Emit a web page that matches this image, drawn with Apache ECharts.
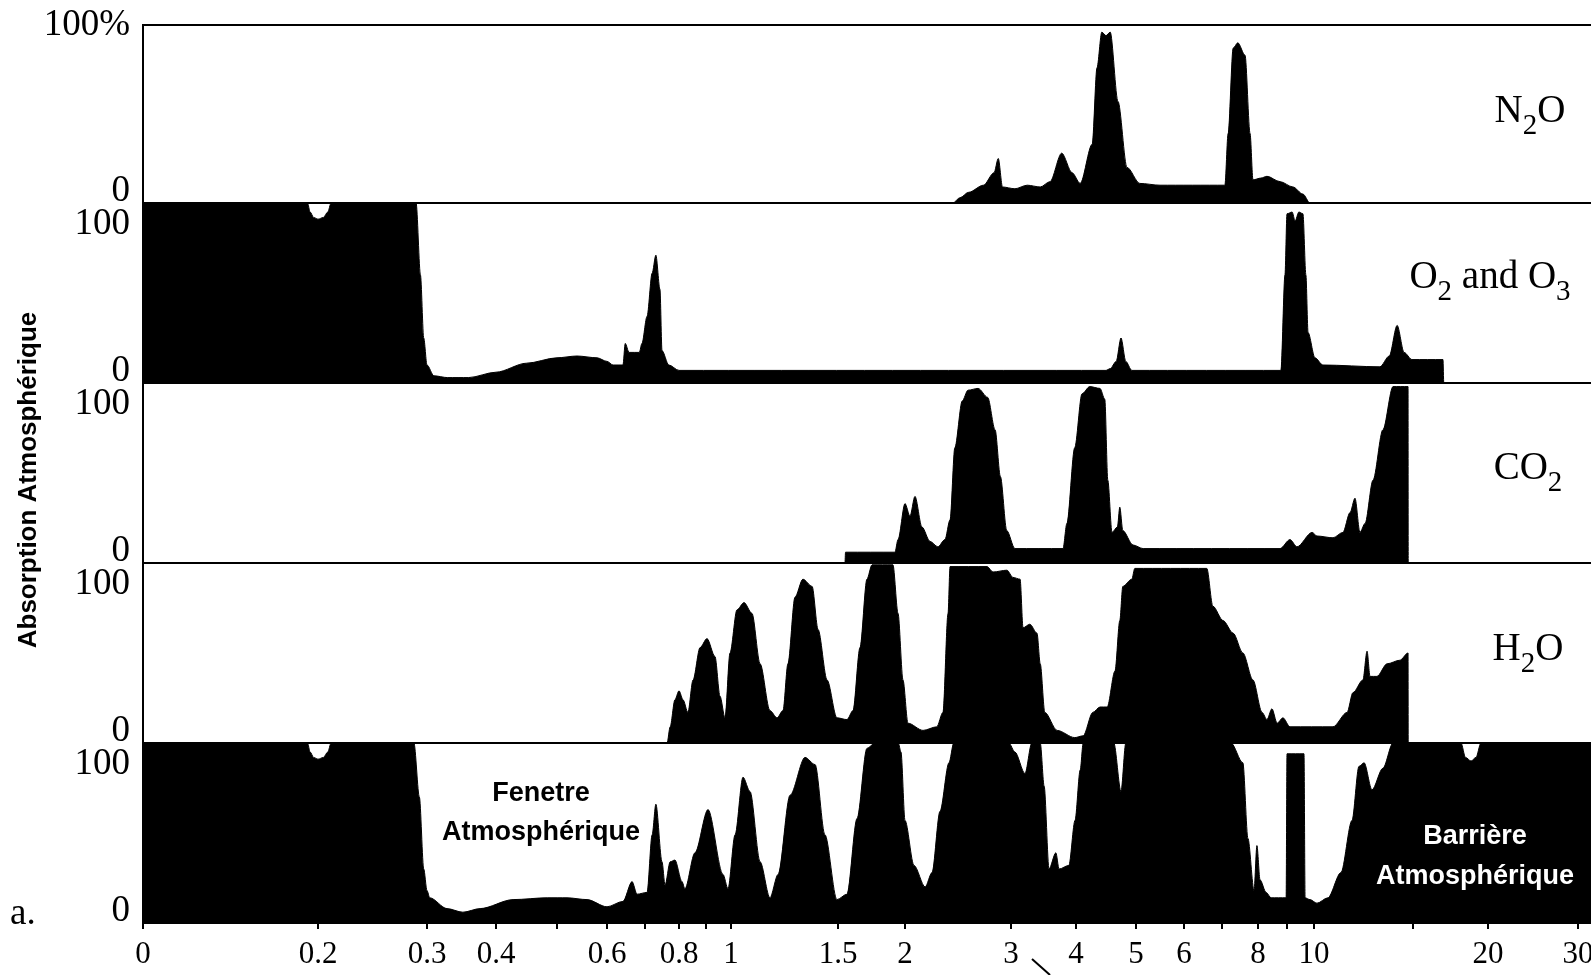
<!DOCTYPE html>
<html>
<head>
<meta charset="utf-8">
<script src="https://cdn.jsdelivr.net/npm/echarts@6/dist/echarts.min.js"></script>
<style>
  html, body { margin: 0; padding: 0; background: #fff; }
  #chart { width: 1591px; height: 975px; }
</style>
</head>
<body>
<div id="chart"></div>
<script>
// axe des longueurs d'onde (µm) dessiné à la main : points d'appui et leur décalage le long de l'axe
const AXIS_WL  = [0, 0.2, 0.3, 0.4, 0.5, 0.6, 0.7, 0.8, 0.9, 1, 1.5, 2, 3, 4, 5, 6, 7, 8, 9, 10, 15, 20, 30];
const AXIS_OFF = [0, 175, 284, 353, 414, 464, 502, 536, 563, 588, 695, 762, 868, 933, 993, 1041, 1079, 1115, 1144, 1171, 1270, 1345, 1435];
const AXIS_END = 1452;

const TICK_LABELS = [0, 0.2, 0.3, 0.4, 0.6, 0.8, 1, 1.5, 2, 3, 4, 5, 6, 8, 10, 20, 30];
const TICK_MINOR  = [0.5, 0.7, 0.9, 7, 9, 15];

// spectres d'absorption [longueur d'onde µm, absorption %]
const N2O = [[0,0],[2.45,0],[2.52,3],[2.6,6],[2.74,10],[2.84,17],[2.88,25],[2.92,9],[3.06,8],[3.25,10],[3.45,9],[3.6,12],
  [3.78,28],[3.94,17],[4.07,11],[4.27,33],[4.35,76],[4.43,96],[4.5,94],[4.57,96],[4.7,57],[4.85,20],[5.08,11],[5.5,10],
  [7.08,10],[7.17,39],[7.31,87],[7.44,90],[7.64,83],[7.78,39],[7.86,13],[8.1,14],[8.31,15],[8.76,12],[9.22,9],[9.59,5],
  [9.85,0],[31.5,0]];

const O2_O3 = [[0,100],[0.188,100],[0.191,95],[0.195,92],[0.2,91],[0.205,92],[0.209,95],[0.212,100],[0.29,100],
  [0.294,60],[0.297,25],[0.3,10],[0.31,4],[0.33,3],[0.36,3],[0.4,6],[0.45,11],[0.5,14],[0.54,15],[0.58,14],[0.6,12],
  [0.616,10],[0.642,10],[0.648,22],[0.658,17],[0.685,17],[0.692,22],[0.706,37],[0.721,61],[0.732,71],[0.744,52],
  [0.75,18],[0.77,10],[0.8,7],[4.5,7],[4.57,8],[4.67,12],[4.75,25],[4.83,12],[4.93,7],[8.79,7],[8.93,60],[9,94],
  [9.19,95],[9.3,90],[9.44,95],[9.59,94],[9.7,60],[9.78,28],[10.05,14],[10.45,10],[13.33,9],[13.8,15],[14.2,32],
  [14.55,17],[14.95,13],[17,13],[17.05,0],[31.5,0]];

const CO2 = [[0,0],[1.552,0],[1.556,6],[1.925,6],[1.948,13],[2,33],[2.047,26],[2.094,37],[2.16,20],[2.236,12],[2.31,9],
  [2.377,13],[2.425,24],[2.47,64],[2.54,90],[2.594,96],[2.69,97],[2.78,92],[2.85,74],[2.9,48],[2.96,18],[3.06,8],
  [3.8,8],[3.86,22],[3.98,64],[4.1,94],[4.23,98],[4.4,97],[4.48,91],[4.53,46],[4.6,17],[4.69,20],[4.73,31],[4.78,18],
  [4.95,10],[5.15,8],[8.76,8],[9.11,13],[9.37,9],[9.93,17],[10.15,15],[10.96,14],[11.46,17],[11.82,28],[12.07,36],
  [12.32,17],[12.58,22],[12.98,46],[13.48,74],[13.99,98],[14.75,98],[14.76,0],[31.5,0]];

const H2O = [[0,0],[0.765,0],[0.774,9],[0.788,24],[0.8,29],[0.815,24],[0.833,17],[0.852,35],[0.878,53],[0.904,58],
  [0.936,48],[0.956,26],[0.976,14],[0.996,50],[1.028,74],[1.061,78],[1.098,72],[1.136,44],[1.182,18],[1.215,14],
  [1.243,18],[1.266,44],[1.299,81],[1.336,91],[1.379,87],[1.407,63],[1.449,35],[1.495,14],[1.567,13],[1.612,18],
  [1.664,53],[1.716,91],[1.754,99],[1.91,99],[1.948,72],[1.985,35],[2.028,11],[2.17,7],[2.3,9],[2.358,17],[2.406,72],
  [2.425,98],[2.774,98],[2.83,95],[2.962,96],[3.03,92],[3.14,91],[3.185,64],[3.29,66],[3.4,61],[3.45,44],[3.52,17],
  [3.71,7],[3.98,3],[4.12,4],[4.28,17],[4.4,20],[4.52,20],[4.65,40],[4.73,68],[4.78,87],[4.93,91],[4.98,97],[6.6,97],
  [6.76,76],[7.03,68],[7.31,61],[7.58,50],[7.86,35],[8.14,17],[8.31,13],[8.48,19],[8.66,11],[8.86,14],[9.11,9],
  [10.96,9],[11.67,17],[11.97,28],[12.47,35],[12.68,51],[12.83,37],[13.18,37],[13.69,44],[14.34,46],[14.75,50],
  [14.76,0],[31.5,0]];

const TOTAL = [[0,100],[0.188,100],[0.191,95],[0.195,92],[0.2,91],[0.205,92],[0.209,95],[0.212,100],[0.288,100],
  [0.293,70],[0.297,30],[0.3,18],[0.304,14],[0.329,8],[0.352,6],[0.377,8],[0.428,13],[0.484,14],[0.52,14],[0.56,13],
  [0.6,9],[0.642,12],[0.666,23],[0.679,16],[0.706,17],[0.721,49],[0.732,66],[0.75,34],[0.759,21],[0.774,34],
  [0.788,35],[0.811,23],[0.822,19],[0.859,39],[0.908,63],[0.968,27],[0.988,19],[1.019,49],[1.056,81],[1.089,73],
  [1.136,34],[1.182,14],[1.22,27],[1.276,71],[1.346,92],[1.393,88],[1.439,49],[1.495,13],[1.567,16],[1.642,58],
  [1.716,97],[1.776,100],[1.95,100],[1.97,95],[2,57],[2.085,32],[2.19,20],[2.255,28],[2.33,62],[2.415,89],[2.46,100],
  [2.98,100],[3.06,95],[3.215,83],[3.32,100],[3.45,100],[3.51,76],[3.585,30],[3.69,39],[3.74,30],[3.89,32],
  [3.985,57],[4.07,85],[4.12,100],[4.63,100],[4.75,73],[4.83,100],[7.25,100],[7.58,89],[7.72,47],[7.89,18],[7.97,43],
  [8.07,24],[8.28,17],[8.45,14],[8.97,14],[9,94],[9.63,94],[9.67,14],[9.85,13],[10.15,11],[10.7,14],[11.36,28],
  [11.92,57],[12.27,87],[12.53,89],[12.93,74],[13.48,86],[13.99,100],[18.2,100],[18.5,92],[18.87,90],[19.2,92],
  [19.53,100],[31.5,100]];

const PANELS = [N2O, O2_O3, CO2, H2O, TOTAL];
const PANEL_TOP = [25, 203, 383, 563, 743];
const PANEL_H = [178, 180, 180, 180, 180];

const SERIF = "'Liberation Serif', 'Times New Roman', serif";
const NARROW = "'Liberation Sans Narrow', 'Liberation Sans', Arial, sans-serif";

// position le long de l'axe pour une longueur d'onde (interpolation par morceaux)
function pos(w) {
  const n = AXIS_WL.length;
  for (let i = 1; i < n; i++) {
    if (w <= AXIS_WL[i]) {
      const t = (w - AXIS_WL[i - 1]) / (AXIS_WL[i] - AXIS_WL[i - 1]);
      return AXIS_OFF[i - 1] + t * (AXIS_OFF[i] - AXIS_OFF[i - 1]);
    }
  }
  const t = (w - AXIS_WL[n - 2]) / (AXIS_WL[n - 1] - AXIS_WL[n - 2]);
  return AXIS_OFF[n - 2] + t * (AXIS_OFF[n - 1] - AXIS_OFF[n - 2]);
}

const labelAt = {};
TICK_LABELS.forEach(w => { labelAt[pos(w).toFixed(2)] = String(w); });

const chart = echarts.init(document.getElementById('chart'));

const yRich = {
  top: { fontFamily: SERIF, fontSize: 37, color: '#000' },
  hi: { fontFamily: SERIF, fontSize: 37, color: '#000', padding: [42, 0, 0, 0] },
  lo: { fontFamily: SERIF, fontSize: 37, color: '#000', padding: [0, 0, 24, 0] }
};

const molRich = {
  n: { fontFamily: SERIF, fontSize: 39, lineHeight: 38, color: '#000', verticalAlign: 'top' },
  s: { fontFamily: SERIF, fontSize: 29, lineHeight: 29, color: '#000', verticalAlign: 'top', padding: [20, 0, 0, 0] }
};

function molLabel(text, x, y) {
  return {
    type: 'text', x: x, y: y, silent: true,
    style: { text: text, rich: molRich, align: 'center', verticalAlign: 'top' }
  };
}

const option = {
  animation: false,
  grid: PANELS.map((d, i) => ({
    left: 143, right: -4, top: PANEL_TOP[i], height: PANEL_H[i],
    show: true, borderColor: '#000', borderWidth: 2,
    outerBoundsMode: 'none'
  })),
  xAxis: PANELS.map((d, i) => i < 4 ? {
    gridIndex: i, type: 'value', min: 0, max: AXIS_END, show: false
  } : {
    gridIndex: i, type: 'value', min: 0, max: AXIS_END,
    axisLine: { show: false },
    splitLine: { show: false },
    axisTick: {
      show: true, length: 6,
      customValues: TICK_LABELS.concat(TICK_MINOR).map(pos),
      lineStyle: { color: '#000', width: 2 }
    },
    axisLabel: {
      show: true, margin: 16,
      customValues: TICK_LABELS.map(pos),
      formatter: v => labelAt[v.toFixed(2)] || '',
      fontFamily: SERIF, fontSize: 31, color: '#000'
    }
  }),
  yAxis: PANELS.map((d, i) => ({
    gridIndex: i, type: 'value', min: 0, max: 100, interval: 100,
    axisLine: { show: false }, axisTick: { show: false }, splitLine: { show: false },
    name: i === 2 ? 'Absorption Atmosphérique' : '',
    nameLocation: 'middle', nameGap: 101, nameRotate: 90,
    nameTextStyle: { fontFamily: NARROW, fontWeight: 'bold', fontSize: 26, color: '#000', padding: [0, 14, 0, 0] },
    axisLabel: {
      margin: 13,
      formatter: v => v === 100 ? (i === 0 ? '{top|100%}' : '{hi|100}') : '{lo|0}',
      rich: yRich
    }
  })),
  series: PANELS.map((d, i) => ({
    type: 'line', xAxisIndex: i, yAxisIndex: i,
    data: d.map(p => [pos(p[0]), p[1]]),
    symbol: 'none', smooth: 0.3, smoothMonotone: 'x', silent: true,
    lineStyle: { color: '#000', width: 1 },
    areaStyle: { color: '#000', opacity: 1 }
  })),
  graphic: [
    molLabel('{n|N}{s|2}{n|O}', 1530, 92),
    molLabel('{n|O}{s|2}{n| and O}{s|3}', 1490, 258),
    molLabel('{n|CO}{s|2}', 1528, 449),
    molLabel('{n|H}{s|2}{n|O}', 1528, 630),
    {
      type: 'text', x: 541, y: 813, silent: true,
      style: { text: 'Fenetre\nAtmosphérique', fontFamily: NARROW, fontWeight: 'bold', fontSize: 27,
        lineHeight: 39, fill: '#000', align: 'center', verticalAlign: 'middle' }
    },
    {
      type: 'text', x: 1475, y: 857, z: 10, silent: true,
      style: { text: 'Barrière\nAtmosphérique', fontFamily: NARROW, fontWeight: 'bold', fontSize: 27,
        lineHeight: 40, fill: '#fff', align: 'center', verticalAlign: 'middle' }
    },
    {
      type: 'text', x: 10, y: 914, silent: true,
      style: { text: 'a.', fontFamily: SERIF, fontSize: 37, fill: '#000', align: 'left', verticalAlign: 'middle' }
    },
    {
      type: 'line', silent: true,
      shape: { x1: 1032, y1: 959, x2: 1050, y2: 975 },
      style: { stroke: '#000', lineWidth: 2 }
    }
  ]
};

chart.setOption(option);
</script>
</body>
</html>
